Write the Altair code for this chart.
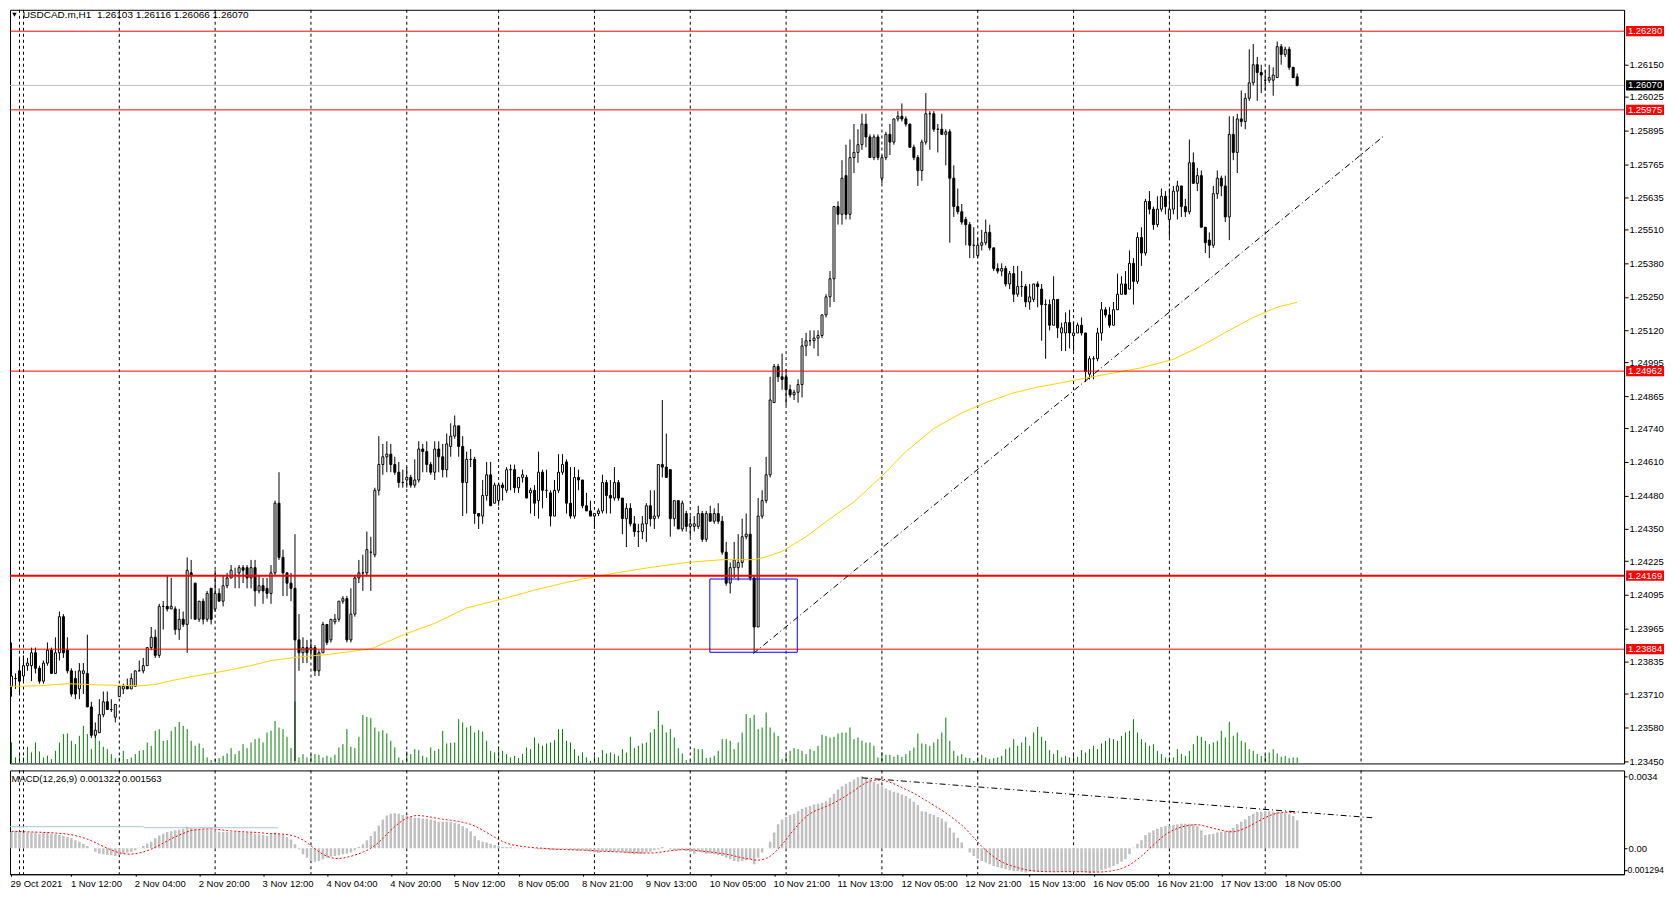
import altair as alt
import pandas as pd

# ---------------- data ----------------
OPEN = [
1.2380,1.2374,1.2377,1.2380,1.2378,1.2382,1.2382,1.2387,1.2381,1.2376,
1.2383,1.2388,1.2379,1.2387,1.2401,1.2388,1.2380,1.2377,1.2373,1.2379,
1.2379,1.2366,1.2355,1.2356,1.2363,1.2368,1.2365,1.2362,1.2370,1.2373,
1.2374,1.2373,1.2374,1.2380,1.2380,1.2382,1.2389,1.2393,1.2386,1.2405,
1.2405,1.2404,1.2404,1.2396,1.2400,1.2398,1.2418,1.2414,1.2400,1.2407,
1.2400,1.2412,1.2404,1.2410,1.2407,1.2413,1.2416,1.2417,1.2418,1.2420,
1.2420,1.2416,1.2420,1.2411,1.2413,1.2412,1.2410,1.2418,1.2445,1.2424,
1.2418,1.2414,1.2412,1.2392,1.2387,1.2389,1.2388,1.2389,1.2380,1.2387,
1.2398,1.2392,1.2399,1.2400,1.2407,1.2408,1.2392,1.2402,1.2416,1.2418,
1.2418,1.2426,1.2425,1.2450,1.2460,1.2463,1.2464,1.2460,1.2457,1.2453,
1.2454,1.2455,1.2452,1.2454,1.2466,1.2465,1.2460,1.2457,1.2466,1.2463,
1.2458,1.2467,1.2471,1.2475,1.2467,1.2453,1.2462,1.2462,1.2441,1.2440,
1.2448,1.2456,1.2445,1.2446,1.2452,1.2450,1.2458,1.2458,1.2451,1.2455,
1.2455,1.2449,1.2450,1.2446,1.2457,1.2450,1.2449,1.2440,1.2450,1.2457,
1.2461,1.2445,1.2440,1.2455,1.2454,1.2444,1.2442,1.2440,1.2441,1.2442,
1.2453,1.2448,1.2447,1.2453,1.2447,1.2439,1.2443,1.2437,1.2434,1.2434,
1.2437,1.2444,1.2439,1.2440,1.2460,1.2459,1.2458,1.2439,1.2446,1.2435,
1.2441,1.2436,1.2436,1.2436,1.2441,1.2431,1.2441,1.2438,1.2441,1.2438,
1.2426,1.2414,1.2420,1.2420,1.2422,1.2432,1.2433,1.2416,1.2397,1.2440,
1.2446,1.2456,1.2484,1.2498,1.2494,1.2494,1.2489,1.2487,1.2488,1.2491,
1.2506,1.2508,1.2508,1.2509,1.2510,1.2518,1.2525,1.2532,1.2560,1.2557,
1.2572,1.2557,1.2579,1.2581,1.2584,1.2592,1.2587,1.2579,1.2587,1.2571,
1.2579,1.2588,1.2585,1.2594,1.2595,1.2594,1.2592,1.2583,1.2579,1.2574,
1.2585,1.2596,1.2596,1.2590,1.2590,1.2588,1.2589,1.2571,1.2560,1.2558,
1.2555,1.2553,1.2545,1.2541,1.2545,1.2546,1.2550,1.2544,1.2536,1.2535,
1.2536,1.2530,1.2534,1.2526,1.2529,1.2529,1.2523,1.2524,1.2530,1.2528,
1.2522,1.2522,1.2514,1.2524,1.2511,1.2511,1.2515,1.2510,1.2511,1.2514,
1.2511,1.2495,1.2501,1.2501,1.2511,1.2520,1.2518,1.2514,1.2520,1.2526,
1.2530,1.2528,1.2538,1.2531,1.2548,1.2542,1.2562,1.2559,1.2553,1.2559,
1.2564,1.2555,1.2559,1.2566,1.2568,1.2560,1.2558,1.2577,1.2569,1.2572,
1.2552,1.2547,1.2545,1.2565,1.2571,1.2568,1.2556,1.2588,1.2581,1.2594,
1.2593,1.2602,1.2608,1.2615,1.2612,1.2609,1.2609,1.2609,1.2610,1.2622,
1.2619,1.2621,1.2614,1.26103]

HIGH = [
1.2383,1.2391,1.2379,1.2385,1.2386,1.2385,1.2389,1.2389,1.2382,1.2384,
1.2391,1.2389,1.2393,1.2403,1.2402,1.2393,1.2381,1.2380,1.2383,1.2383,
1.2394,1.2368,1.2360,1.2369,1.2372,1.2372,1.2369,1.2367,1.2374,1.2375,
1.2377,1.2379,1.2380,1.2384,1.2385,1.2389,1.2397,1.2396,1.2406,1.2407,
1.2417,1.2416,1.2405,1.2404,1.2403,1.2424,1.2423,1.2414,1.2407,1.2408,
1.2411,1.2412,1.2419,1.2412,1.2417,1.2418,1.2421,1.2420,1.2421,1.2421,
1.2421,1.2423,1.2423,1.2417,1.2416,1.2416,1.2421,1.2446,1.2457,1.2427,
1.2418,1.2418,1.2433,1.2402,1.2393,1.2392,1.2392,1.2390,1.2388,1.2399,
1.2398,1.2400,1.2402,1.2407,1.2409,1.2409,1.2412,1.2417,1.2423,1.2425,
1.2434,1.2432,1.2451,1.2471,1.2468,1.2469,1.2468,1.2463,1.2461,1.2458,
1.2459,1.2456,1.2462,1.2469,1.2468,1.2469,1.2461,1.2469,1.2469,1.2468,
1.2472,1.2476,1.2479,1.2475,1.2471,1.2465,1.2466,1.2463,1.2441,1.2454,
1.2461,1.2461,1.2453,1.2453,1.2453,1.2459,1.2460,1.2460,1.2455,1.2458,
1.2456,1.2451,1.2452,1.2465,1.2458,1.2458,1.2450,1.2454,1.2464,1.2464,
1.2462,1.2459,1.2459,1.2458,1.2454,1.2449,1.2446,1.2441,1.2443,1.2456,
1.2454,1.2454,1.2459,1.2454,1.2447,1.2445,1.2445,1.2440,1.2437,1.2440,
1.2445,1.2450,1.2450,1.2460,1.2485,1.2472,1.2458,1.2446,1.2446,1.2446,
1.2442,1.2440,1.2440,1.2444,1.2442,1.2442,1.2444,1.2443,1.2445,1.2440,
1.2430,1.2422,1.2430,1.2433,1.2439,1.2441,1.2459,1.2417,1.2447,1.2450,
1.2463,1.2494,1.2499,1.2499,1.2503,1.2497,1.2491,1.2489,1.2493,1.2509,
1.2511,1.2512,1.2512,1.2512,1.2518,1.2526,1.2535,1.2560,1.2562,1.2578,
1.2584,1.2586,1.2592,1.2590,1.2596,1.2596,1.2588,1.2588,1.2588,1.2580,
1.2589,1.2592,1.2594,1.2597,1.2600,1.2595,1.2592,1.2584,1.2580,1.2586,
1.2604,1.2597,1.2597,1.2592,1.2596,1.2590,1.2590,1.2576,1.2567,1.2561,
1.2556,1.2554,1.2552,1.2548,1.2551,1.2555,1.2553,1.2544,1.2538,1.2538,
1.2537,1.2535,1.2537,1.2537,1.2535,1.2530,1.2530,1.2530,1.2531,1.2530,
1.2524,1.2524,1.2533,1.2524,1.2515,1.2519,1.2520,1.2515,1.2515,1.2517,
1.2511,1.2502,1.2502,1.2513,1.2523,1.2521,1.2521,1.2523,1.2534,1.2533,
1.2535,1.2543,1.2540,1.2550,1.2552,1.2563,1.2566,1.2560,1.2564,1.2567,
1.2566,1.2567,1.2568,1.2570,1.2568,1.2563,1.2586,1.2581,1.2575,1.2574,
1.2552,1.2550,1.2568,1.2574,1.2572,1.2572,1.2595,1.2595,1.2596,1.2605,
1.2604,1.2621,1.2623,1.2618,1.2615,1.2613,1.2615,1.2614,1.2624,1.2623,
1.2622,1.2622,1.2614,1.26116]

LOW = [
1.2370,1.2370,1.2373,1.2371,1.2376,1.2380,1.2376,1.2379,1.2375,1.2375,
1.2382,1.2379,1.2379,1.2384,1.2385,1.2379,1.2370,1.2369,1.2369,1.2371,
1.2366,1.2354,1.2354,1.2356,1.2362,1.2365,1.2364,1.2360,1.2370,1.2371,
1.2373,1.2373,1.2374,1.2380,1.2379,1.2382,1.2388,1.2385,1.2385,1.2396,
1.2403,1.2404,1.2394,1.2392,1.2397,1.2387,1.2400,1.2400,1.2399,1.2398,
1.2399,1.2398,1.2403,1.2407,1.2405,1.2412,1.2416,1.2412,1.2412,1.2414,
1.2412,1.2412,1.2405,1.2410,1.2406,1.2408,1.2406,1.2417,1.2423,1.2409,
1.2409,1.2407,1.2345,1.2380,1.2383,1.2383,1.2385,1.2378,1.2378,1.2387,
1.2390,1.2391,1.2398,1.2399,1.2406,1.2391,1.2391,1.2401,1.2414,1.2411,
1.2417,1.2411,1.2424,1.2448,1.2456,1.2457,1.2457,1.2456,1.2451,1.2451,
1.2451,1.2451,1.2451,1.2453,1.2457,1.2457,1.2456,1.2454,1.2457,1.2455,
1.2455,1.2463,1.2470,1.2463,1.2440,1.2441,1.2459,1.2437,1.2435,1.2437,
1.2446,1.2444,1.2445,1.2444,1.2446,1.2449,1.2450,1.2449,1.2449,1.2453,
1.2447,1.2441,1.2440,1.2439,1.2443,1.2447,1.2436,1.2440,1.2449,1.2456,
1.2441,1.2439,1.2439,1.2450,1.2443,1.2442,1.2440,1.2435,1.2440,1.2441,
1.2441,1.2441,1.2446,1.2446,1.2433,1.2428,1.2436,1.2432,1.2428,1.2431,
1.2430,1.2436,1.2435,1.2439,1.2455,1.2455,1.2432,1.2436,1.2435,1.2434,
1.2434,1.2432,1.2434,1.2435,1.2430,1.2430,1.2438,1.2437,1.2437,1.2425,
1.2413,1.2410,1.2416,1.2415,1.2420,1.2431,1.2415,1.2387,1.2397,1.2439,
1.2445,1.2455,1.2484,1.2492,1.2489,1.2483,1.2486,1.2485,1.2484,1.2486,
1.2502,1.2506,1.2505,1.2502,1.2509,1.2517,1.2521,1.2523,1.2553,1.2553,
1.2555,1.2555,1.2573,1.2577,1.2582,1.2583,1.2579,1.2578,1.2578,1.2569,
1.2578,1.2580,1.2584,1.2593,1.2593,1.2591,1.2583,1.2578,1.2568,1.2570,
1.2584,1.2582,1.2589,1.2581,1.2588,1.2576,1.2546,1.2556,1.2557,1.2553,
1.2545,1.2540,1.2540,1.2540,1.2543,1.2545,1.2543,1.2535,1.2534,1.2533,
1.2529,1.2528,1.2523,1.2525,1.2525,1.2521,1.2520,1.2523,1.2521,1.2508,
1.2501,1.2512,1.2514,1.2509,1.2504,1.2504,1.2505,1.2504,1.2511,1.2510,
1.2492,1.2493,1.2493,1.2500,1.2508,1.2517,1.2513,1.2514,1.2520,1.2526,
1.2526,1.2528,1.2522,1.2530,1.2537,1.2541,1.2557,1.2551,1.2552,1.2558,
1.2557,1.2548,1.2557,1.2555,1.2556,1.2556,1.2557,1.2569,1.2566,1.2552,
1.2542,1.2540,1.2544,1.2563,1.2564,1.2554,1.2547,1.2578,1.2573,1.2591,
1.2590,1.2601,1.2607,1.2601,1.2604,1.2605,1.2608,1.2603,1.2610,1.2615,
1.2618,1.2613,1.2610,1.26066]

CLOSE = [
1.2374,1.2378,1.2377,1.2376,1.2382,1.2383,1.2387,1.2381,1.2376,1.2383,
1.2388,1.2379,1.2387,1.2401,1.2387,1.2380,1.2371,1.2371,1.2380,1.2380,
1.2366,1.2355,1.2357,1.2363,1.2368,1.2365,1.2365,1.2367,1.2374,1.2374,
1.2373,1.2377,1.2380,1.2380,1.2382,1.2389,1.2393,1.2386,1.2405,1.2405,
1.2404,1.2405,1.2396,1.2400,1.2398,1.2419,1.2417,1.2400,1.2407,1.2400,
1.2410,1.2400,1.2410,1.2407,1.2413,1.2416,1.2419,1.2417,1.2420,1.2419,
1.2416,1.2420,1.2411,1.2413,1.2411,1.2410,1.2418,1.2445,1.2424,1.2418,
1.2414,1.2412,1.2392,1.2387,1.2389,1.2387,1.2389,1.2380,1.2387,1.2398,
1.2391,1.2400,1.2400,1.2407,1.2408,1.2392,1.2402,1.2416,1.2418,1.2418,
1.2427,1.2426,1.2450,1.2460,1.2463,1.2464,1.2460,1.2457,1.2453,1.2453,
1.2455,1.2452,1.2454,1.2466,1.2465,1.2460,1.2457,1.2466,1.2463,1.2458,
1.2468,1.2471,1.2475,1.2467,1.2453,1.2462,1.2462,1.2441,1.2440,1.2448,
1.2456,1.2444,1.2452,1.2452,1.2451,1.2458,1.2458,1.2451,1.2455,1.2456,
1.2447,1.2450,1.2445,1.2457,1.2450,1.2450,1.2440,1.2450,1.2457,1.2460,
1.2445,1.2440,1.2455,1.2454,1.2444,1.2442,1.2440,1.2441,1.2442,1.2453,
1.2448,1.2447,1.2453,1.2447,1.2439,1.2443,1.2437,1.2434,1.2434,1.2437,
1.2444,1.2439,1.2440,1.2460,1.2459,1.2455,1.2439,1.2446,1.2435,1.2445,
1.2436,1.2437,1.2437,1.2441,1.2431,1.2441,1.2438,1.2441,1.2438,1.2426,
1.2414,1.2420,1.2423,1.2422,1.2432,1.2433,1.2416,1.2397,1.2440,1.2446,
1.2456,1.2485,1.2498,1.2494,1.2493,1.2489,1.2487,1.2488,1.2491,1.2506,
1.2508,1.2508,1.2509,1.2510,1.2518,1.2525,1.2532,1.2560,1.2557,1.2571,
1.2557,1.2579,1.2581,1.2584,1.2592,1.2587,1.2579,1.2587,1.2579,1.2579,
1.2588,1.2585,1.2594,1.2595,1.2594,1.2592,1.2583,1.2579,1.2574,1.2585,
1.2596,1.2596,1.2590,1.2590,1.2588,1.2589,1.2571,1.2560,1.2558,1.2554,
1.2553,1.2545,1.2545,1.2545,1.2546,1.2550,1.2544,1.2536,1.2535,1.2536,
1.2530,1.2534,1.2526,1.2529,1.2529,1.2523,1.2525,1.2530,1.2529,1.2522,
1.2522,1.2514,1.2524,1.2513,1.2513,1.2515,1.2511,1.2511,1.2514,1.2511,
1.2496,1.2501,1.2501,1.2511,1.2520,1.2518,1.2514,1.2520,1.2526,1.2530,
1.2526,1.2538,1.2531,1.2548,1.2542,1.2562,1.2559,1.2553,1.2559,1.2564,
1.2560,1.2559,1.2566,1.2568,1.2560,1.2558,1.2577,1.2569,1.2572,1.2552,
1.2546,1.2545,1.2565,1.2571,1.2568,1.2556,1.2588,1.2581,1.2594,1.2593,
1.2602,1.2608,1.2615,1.2612,1.2611,1.2609,1.2610,1.2611,1.2622,1.2619,
1.2621,1.2614,1.2610,1.26070]

VOLUME = [
1400,1260,360,560,360,1000,660,1260,720,360,
460,260,760,1260,1760,1800,1360,1160,1660,2260,
1760,860,1800,1360,1000,860,560,320,360,760,
260,360,560,760,800,1260,1060,1960,2060,1360,
1400,1960,2200,2500,2260,2060,1360,1060,1200,920,
360,200,260,320,460,600,920,560,760,1160,
920,1260,1460,1520,1260,1860,1960,2560,2160,2060,
1600,920,3720,360,560,360,560,560,520,360,
460,360,520,960,1160,2060,1000,920,1600,2920,
2800,2720,2160,1920,2000,1800,1360,960,360,200,
720,560,860,800,460,360,960,760,860,1960,
1200,1240,1260,2660,2460,2160,2260,1860,2000,1920,
1360,760,660,860,760,560,360,460,320,560,
960,860,1560,1200,1060,1200,1260,1400,2060,2060,
1360,1260,860,460,660,360,160,460,360,800,
600,660,560,460,860,660,1600,920,1060,1200,
1260,1860,2060,3160,2320,1860,2060,1560,920,600,
200,160,920,860,860,320,360,460,760,1460,
1460,1360,860,1260,1860,2960,2720,2920,2060,2160,
3060,2160,1860,1660,260,520,760,920,860,760,
560,860,760,1060,1720,1660,1560,1600,1800,1860,
1860,2160,1460,1560,1360,1260,1260,1060,360,660,
520,520,400,520,400,560,760,960,1800,1200,
1160,1060,1260,1460,1860,2760,1360,760,460,560,
360,320,160,360,520,360,260,320,360,460,
860,960,1460,1060,1260,1600,1060,1860,2200,1600,
1360,800,560,800,360,460,360,520,400,800,
660,860,1060,860,1200,1360,1520,1460,1360,1660,
1860,1960,2660,1860,1460,1260,1060,1160,760,560,
360,400,360,860,560,460,760,1160,1660,1600,
1360,1160,1260,1360,1960,1560,2500,1660,1860,1360,
1260,860,760,560,460,560,660,860,600,400,
460,320,360,360]

MACD = [
0.00081,0.00077,0.00081,0.00078,0.00074,0.00074,0.00074,0.00074,0.00069,0.00074,
0.00074,0.00069,0.00066,0.00063,0.00058,0.00053,0.00047,0.00038,0.00031,0.00022,
0.00011,0.0,-0.00016,-0.00025,-0.00028,-0.00031,-0.00033,-0.00036,-0.00031,-0.00025,
-0.0002,-0.00016,-0.00009,0.00003,0.00011,0.00022,0.00031,0.00047,0.00061,0.00069,
0.00077,0.00081,0.00085,0.00088,0.00092,0.00102,0.00097,0.00092,0.00089,0.00088,
0.00086,0.00085,0.00081,0.00078,0.00077,0.00077,0.00077,0.00077,0.00077,0.00074,
0.00074,0.00074,0.00069,0.00066,0.00063,0.00058,0.00066,0.00074,0.00069,0.00063,
0.00053,0.00042,0.00019,-0.00005,-0.00028,-0.00044,-0.0006,-0.00063,-0.0006,-0.00052,
-0.00044,-0.00039,-0.00036,-0.00033,-0.00028,-0.00025,-0.0002,-0.00009,0.00006,0.00019,
0.00038,0.00058,0.00081,0.00108,0.00136,0.00155,0.00163,0.00165,0.00163,0.00157,
0.00152,0.00147,0.00144,0.00144,0.00141,0.00139,0.00136,0.00132,0.00125,0.00125,
0.00125,0.00124,0.00121,0.00116,0.00105,0.00094,0.00081,0.00058,0.00038,0.00031,
0.00027,0.00022,0.00016,0.00011,0.00008,0.00006,0.00006,0.00003,0.00003,0.00003,
0.0,0.0,-0.00002,-0.00005,-0.00005,-0.00006,-0.00009,-0.00009,-0.00008,-0.00005,
-0.00006,-0.00009,-0.00009,-0.00011,-0.00009,-0.00013,-0.00016,-0.0002,-0.00022,-0.00016,
-0.00016,-0.00016,-0.00016,-0.00016,-0.00019,-0.00022,-0.00025,-0.00028,-0.00028,-0.00025,
-0.0002,-0.00016,-0.00009,-0.00005,0.00006,0.0,-0.00005,-0.00009,-0.00009,-0.00009,
-0.00013,-0.00016,-0.00025,-0.00016,-0.0002,-0.00025,-0.00025,-0.00028,-0.00031,-0.00036,
-0.00044,-0.00052,-0.0006,-0.00063,-0.0006,-0.00056,-0.00052,-0.00075,-0.00044,-0.0002,
0.0,0.00031,0.00074,0.00113,0.00136,0.00147,0.00157,0.00163,0.00175,0.00186,
0.00194,0.00199,0.00207,0.0021,0.00215,0.00222,0.00238,0.00257,0.00277,0.00293,
0.00304,0.00313,0.00324,0.00335,0.0034,0.00332,0.00329,0.00313,0.00304,0.00293,
0.00282,0.00273,0.00266,0.00262,0.00254,0.00246,0.00235,0.00219,0.00204,0.00175,
0.00172,0.00163,0.00157,0.00147,0.00141,0.00125,0.00097,0.00074,0.0005,0.00027,
0.0,-0.0002,-0.00036,-0.00049,-0.0006,-0.00067,-0.00075,-0.00083,-0.00088,-0.00094,
-0.00099,-0.00103,-0.00107,-0.00107,-0.0011,-0.00114,-0.0011,-0.0011,-0.0011,-0.0011,
-0.0011,-0.0011,-0.0011,-0.0011,-0.0011,-0.0011,-0.0011,-0.00111,-0.0011,-0.0011,
-0.00114,-0.00119,-0.00114,-0.0011,-0.00103,-0.00099,-0.00091,-0.00083,-0.00075,-0.00063,
-0.00052,-0.00028,0.00003,0.00022,0.00038,0.00063,0.00074,0.00085,0.00092,0.001,
0.00105,0.00108,0.0011,0.00113,0.00116,0.00116,0.00116,0.00113,0.00105,0.00085,
0.00063,0.00066,0.00069,0.00074,0.00078,0.00081,0.00085,0.00097,0.00113,0.00125,
0.00136,0.00152,0.00163,0.00171,0.00172,0.00175,0.00175,0.00172,0.00172,0.00168,
0.00168,0.0016,0.00152,0.001322]

# yellow moving average (bar index, value)
MA_IDX = [0, 8, 15, 24, 33, 37, 42, 47, 51, 57, 62, 66, 72, 80, 91, 100, 107, 115, 123, 129,
          132, 140, 147, 153, 161, 170, 179, 187, 190, 194, 200, 206, 212, 219, 225, 232, 239,
          245, 252, 258, 265, 270, 275, 284, 292, 299, 305, 312, 318, 323]
MA_VAL = [1.23740, 1.23742, 1.23750, 1.23745, 1.23742, 1.23747, 1.23765, 1.23780, 1.23790,
          1.23807, 1.23824, 1.23840, 1.23852, 1.23863, 1.23885, 1.23945, 1.23984, 1.24044,
          1.24075, 1.24100, 1.24113, 1.24143, 1.24165, 1.24181, 1.24201, 1.24220, 1.24231,
          1.24231, 1.24242, 1.24263, 1.24320, 1.24390, 1.24455, 1.24555, 1.24650, 1.24740,
          1.24800, 1.24840, 1.24878, 1.24900, 1.24920, 1.24935, 1.24949, 1.24975, 1.25008,
          1.25060, 1.25112, 1.25170, 1.25210, 1.25229]

LEVELS = [1.26280, 1.25975, 1.24962, 1.24169, 1.23884]
LEVEL_W = [1, 1, 1, 2, 1]
BID = 1.26070
PRICE_TICKS = [1.26150, 1.26025, 1.25895, 1.25765, 1.25635, 1.25510, 1.25380, 1.25250,
               1.25120, 1.24995, 1.24865, 1.24740, 1.24610, 1.24480, 1.24350, 1.24225,
               1.24095, 1.23965, 1.23835, 1.23710, 1.23580, 1.23450]
MACD_TICKS = [0.0034, 0.0, -0.00103]
MACD_MIN_LABEL = "-0.001294"
DAY_LINES = [3, 4, 28, 52, 76, 100, 123, 147, 171, 195, 219, 243, 267, 291, 315, 339]
LABEL_IDX = [0, 16, 32, 48, 64, 80, 96, 112, 128, 144, 160, 176, 192, 208, 224, 240, 256,
             272, 288, 304, 320]
LABEL_TXT = ["29 Oct 2021", "1 Nov 12:00", "2 Nov 04:00", "2 Nov 20:00", "3 Nov 12:00",
             "4 Nov 04:00", "4 Nov 20:00", "5 Nov 12:00", "8 Nov 05:00", "8 Nov 21:00",
             "9 Nov 13:00", "10 Nov 05:00", "10 Nov 21:00", "11 Nov 13:00", "12 Nov 05:00",
             "12 Nov 21:00", "15 Nov 13:00", "16 Nov 05:00", "16 Nov 21:00", "17 Nov 13:00",
             "18 Nov 05:00"]
BOX_I = [175.9, 197.8]
BOX_P = [1.23872, 1.24156]
TREND_I = [186.8, 344.8]
TREND_P = [1.23867, 1.25875]
MTREND_I = [214.0, 341.8]
MTREND_V = [0.00332, 0.00144]
BLUE_X1 = [-0.3, 34.1]
BLUE_X2 = [34.1, 67.8]
BLUE_V = [0.00102, 0.00097]
TITLE = "USDCAD.m,H1\u00a0 1.26103 1.26116 1.26066 1.26070"
MACD_TITLE = "MACD(12,26,9) 0.001322 0.001563"

# ---------------- frames ----------------
n = min(len(OPEN), len(HIGH), len(LOW), len(CLOSE), len(VOLUME), len(MACD))
df = pd.DataFrame({"i": list(range(n)), "o": OPEN[:n], "h": HIGH[:n], "l": LOW[:n],
                   "c": CLOSE[:n], "v": VOLUME[:n], "m": MACD[:n]})
df["top"] = df[["o", "c"]].max(axis=1)
df["bot"] = df[["o", "c"]].min(axis=1)
df["dir"] = ["up" if c >= o else "down" for o, c in zip(df["o"], df["c"])]
df["xl"] = df["i"] - 0.25
df["xr"] = df["i"] + 0.25
df["v0"] = 0
df["m0"] = 0.0
df["sig"] = df["m"].rolling(9, min_periods=1).mean()

W, H1, H2 = 1617, 755, 104
FONT = "Liberation Sans"
XS = alt.Scale(domain=[0.625, 404.875], nice=False, zero=False)
PS = alt.Scale(domain=[1.23441, 1.26363], nice=False, zero=False)
VS = alt.Scale(domain=[0, 45300], nice=False, zero=False)
MS = alt.Scale(domain=[-0.00122, 0.00367], nice=False, zero=False)

price_axis = alt.Axis(orient="right", values=PRICE_TICKS, format=".5f", tickSize=4,
                      labelFont=FONT, labelFontSize=9.5, labelColor="black",
                      tickColor="black", domainColor="black", labelPadding=1,
                      grid=False, labelOverlap=False, title=None, labelBound=False)
lab_expr = "[" + ",".join("'" + t + "'" for t in LABEL_TXT) + "][round(datum.value/16)]"
label_pos = [max(v, 0.9) for v in LABEL_IDX]
x_axis = alt.Axis(values=label_pos, labelExpr=lab_expr, labelAlign="left", labelOffset=-1,
                  labelFont=FONT, labelFontSize=9.5, labelColor="black", tickSize=2,
                  tickColor="black", domainColor="black", labelPadding=2, grid=False,
                  labelOverlap=False, title=None, labelBound=False, labelFlush=False)
macd_axis = alt.Axis(orient="right", values=MACD_TICKS,
                     labelExpr="datum.value > 0.001 ? '0.0034' : (datum.value < -0.0005 ? '' : '0.00')",
                     tickSize=3, labelFont=FONT, labelFontSize=9.5, labelColor="black",
                     tickColor="black", domainColor="black", labelPadding=1, grid=False,
                     labelOverlap=False, title=None, labelBound=False)


def PX(f):
    return alt.X(f, scale=XS, axis=None)


def PY(f):
    return alt.Y(f, scale=PS, axis=price_axis)


def MX(f):
    return alt.X(f, scale=XS, axis=x_axis)


def MY(f):
    return alt.Y(f, scale=MS, axis=macd_axis)


base = alt.Chart(df)

# ---------------- main panel ----------------
vol = base.mark_rule(color="#008000", strokeWidth=1, clip=True).encode(
    x=PX("i:Q"), y=alt.Y("v:Q", scale=VS, axis=None), y2="v0:Q")

days_df = pd.DataFrame({"i": DAY_LINES})
days = alt.Chart(days_df).mark_rule(color="black", strokeDash=[3, 3], strokeWidth=1).encode(x=PX("i:Q"))

lev_df = pd.DataFrame({"p": LEVELS, "w": LEVEL_W})
levels = alt.Chart(lev_df).mark_rule(color="#ff0000").encode(
    y=PY("p:Q"), strokeWidth=alt.StrokeWidth("w:Q", scale=None, legend=None))

bid = alt.Chart(pd.DataFrame({"p": [BID]})).mark_rule(color="#c0c0c0", strokeWidth=1).encode(y=PY("p:Q"))

ma_df = pd.DataFrame({"i": MA_IDX, "p": MA_VAL})
ma = alt.Chart(ma_df).mark_line(color="#ffd200", strokeWidth=1, clip=True).encode(x=PX("i:Q"), y=PY("p:Q"))

box_df = pd.DataFrame({"x1": [BOX_I[0]], "x2": [BOX_I[1]], "p1": [BOX_P[0]], "p2": [BOX_P[1]]})
box = alt.Chart(box_df).mark_rect(fillOpacity=0, stroke="#0000ff", strokeWidth=1).encode(
    x=PX("x1:Q"), x2="x2:Q", y=PY("p1:Q"), y2="p2:Q")

tr_df = pd.DataFrame({"i": TREND_I, "p": TREND_P})
trend = alt.Chart(tr_df).mark_line(color="black", strokeDash=[6, 3, 1, 3], strokeWidth=1).encode(
    x=PX("i:Q"), y=PY("p:Q"))

wick = base.mark_rule(color="black", strokeWidth=1, clip=True).encode(x=PX("i:Q"), y=PY("l:Q"), y2="h:Q")
body = base.mark_rect(stroke="black", strokeWidth=1, clip=True).encode(
    x=PX("xl:Q"), x2="xr:Q", y=PY("top:Q"), y2="bot:Q",
    fill=alt.Fill("dir:N", scale=alt.Scale(domain=["up", "down"], range=["white", "black"]), legend=None))

lab_p = LEVELS + [BID]
lab_df = pd.DataFrame({"p": lab_p,
                       "lo": [p - 0.0002 for p in lab_p],
                       "hi": [p + 0.0002 for p in lab_p],
                       "txt": [f"{p:.5f}" for p in lab_p],
                       "col": ["#ff0000"] * len(LEVELS) + ["#000000"]})
lab_box = alt.Chart(lab_df).mark_rect().encode(
    x=alt.value(W + 2), x2=alt.value(W + 40), y=PY("lo:Q"), y2="hi:Q",
    fill=alt.Fill("col:N", scale=None))
lab_txt = alt.Chart(lab_df).mark_text(color="white", font=FONT, fontSize=9.5, align="center",
                                       baseline="middle").encode(
    x=alt.value(W + 21), y=PY("p:Q"), text="txt:N")

title_df = pd.DataFrame({"t": [TITLE]})
title = alt.Chart(title_df).mark_text(align="left", baseline="top", font=FONT, fontSize=10,
                                       color="black").encode(x=alt.value(12.7), y=alt.value(0), text="t:N")
tri = alt.Chart(title_df).mark_point(shape="triangle-down", filled=True, color="black", size=20,
                                      opacity=1).encode(x=alt.value(4.5), y=alt.value(5))

price_group = alt.layer(days, bid, wick, body, ma, levels, box, trend, lab_box, lab_txt, title, tri)
main = alt.layer(vol, price_group).resolve_scale(y="independent").properties(width=W, height=H1)

# ---------------- MACD panel ----------------
hist = base.mark_rule(color="#c0c0c0", strokeWidth=2.5, clip=True).encode(x=MX("i:Q"), y=MY("m:Q"), y2="m0:Q")
sig = base.mark_line(color="#ff0000", strokeDash=[2, 2], strokeWidth=1, clip=True).encode(x=MX("i:Q"), y=MY("sig:Q"))
blue_df = pd.DataFrame({"x1": BLUE_X1, "x2": BLUE_X2, "v": BLUE_V})
blue = alt.Chart(blue_df).mark_rule(color="#b0c4de", strokeWidth=1, clip=True).encode(x=MX("x1:Q"), x2="x2:Q", y=MY("v:Q"))
mdays = alt.Chart(days_df).mark_rule(color="black", strokeDash=[3, 3], strokeWidth=1).encode(x=MX("i:Q"))
mt_df = pd.DataFrame({"i": MTREND_I, "v": MTREND_V})
mtrend = alt.Chart(mt_df).mark_line(color="black", strokeDash=[6, 3, 1, 3], strokeWidth=1).encode(
    x=MX("i:Q"), y=MY("v:Q"))
mtitle = alt.Chart(pd.DataFrame({"t": [MACD_TITLE]})).mark_text(
    align="left", baseline="middle", font=FONT, fontSize=9.5, color="black").encode(
    x=alt.value(1.5), y=alt.value(9), text="t:N")
mmin = alt.Chart(pd.DataFrame({"v": [MACD_TICKS[2]], "t": [MACD_MIN_LABEL]})).mark_text(
    align="right", baseline="middle", font=FONT, fontSize=8.8, color="black").encode(
    x=alt.value(W + 40), y=MY("v:Q"), text="t:N")

macd = alt.layer(mdays, hist, blue, sig, mtrend, mtitle, mmin).properties(width=W, height=H2)

chart = alt.vconcat(main, macd, spacing=3).configure_view(
    stroke="black", strokeWidth=1).properties(
    padding={"left": 0, "top": 0, "right": 0, "bottom": 0}, background="white")

chart.save("out.html", embed_options={"renderer": "svg", "actions": False})
